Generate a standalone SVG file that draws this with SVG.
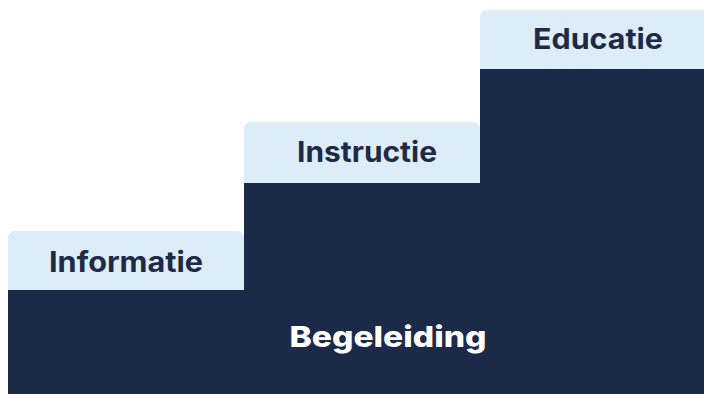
<svg xmlns="http://www.w3.org/2000/svg" width="704" height="394" viewBox="0 0 704 394">
<style>
.tab{fill:#ddedf7}
.lbl{font-family:Inter,"Noto Sans",sans-serif;font-weight:700;font-size:28px;fill:#1e2a47}
.main{font-family:Inter,"Noto Sans",sans-serif;font-weight:800;font-size:29px;fill:#ffffff}
</style>
<rect width="704" height="394" fill="#ffffff"/>
<g id="stairs">
<path d="M8,290 H244 V183 H480 V69 H704 V394 H8 Z" fill="#1c2a4a"/>
</g>
<g id="informatie">
<path class="tab" d="M8,290 V239 Q8,231 16,231 H236 Q244,231 244,239 V290 Z"/>
<text class="lbl" x="126" y="272" text-anchor="middle" textLength="154" lengthAdjust="spacingAndGlyphs">Informatie</text>
</g>
<g id="instructie">
<path class="tab" d="M244,183 V130 Q244,122 252,122 H472 Q480,122 480,130 V183 Z"/>
<text class="lbl" x="367" y="162" text-anchor="middle" textLength="140" lengthAdjust="spacingAndGlyphs">Instructie</text>
</g>
<g id="educatie">
<path class="tab" d="M480,69 V18 Q480,10 488,10 H704 V69 Z"/>
<text class="lbl" x="598" y="49" text-anchor="middle" textLength="130" lengthAdjust="spacingAndGlyphs">Educatie</text>
</g>
<g id="begeleiding">
<text class="main" x="388" y="347" text-anchor="middle" textLength="197" lengthAdjust="spacingAndGlyphs">Begeleiding</text>
</g>
<g id="connectors"/>
</svg>
